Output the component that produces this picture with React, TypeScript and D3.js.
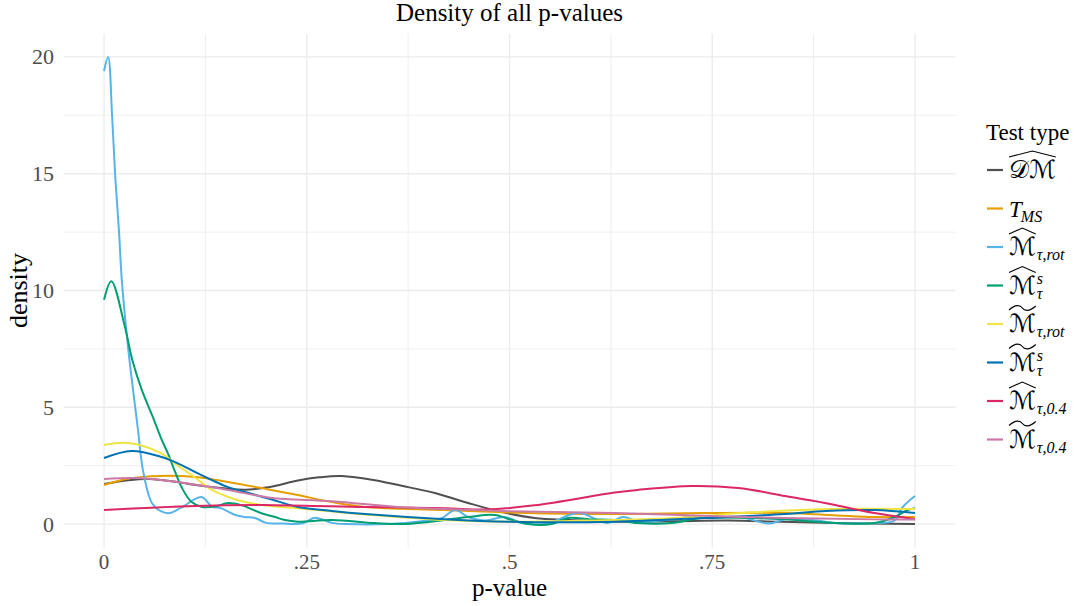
import React, { useEffect, useRef } from "react";
import * as d3 from "d3";

const W = 1083;
const H = 606;

// density estimates of p-values per test type, as [p, density]
const dmHat: [number, number][] = [
  [0, 1.72], [0.03, 1.88], [0.055, 1.93], [0.09, 1.8], [0.113, 1.67], [0.15, 1.52],
  [0.174, 1.47], [0.2, 1.56], [0.211, 1.63], [0.239, 1.86], [0.265, 2.0], [0.293, 2.06],
  [0.334, 1.88], [0.375, 1.58], [0.408, 1.33], [0.449, 0.9], [0.491, 0.51], [0.531, 0.26],
  [0.572, 0.17], [0.63, 0.1], [0.7, 0.12], [0.77, 0.15], [0.83, 0.1], [0.9, 0.04], [1, 0.0],
];
const tMS: [number, number][] = [
  [0, 1.67], [0.03, 1.95], [0.07, 2.06], [0.113, 2.01], [0.153, 1.8], [0.2, 1.5],
  [0.239, 1.24], [0.281, 0.94], [0.322, 0.73], [0.42, 0.6], [0.52, 0.47], [0.63, 0.43],
  [0.74, 0.47], [0.84, 0.47], [0.9, 0.38], [0.95, 0.3], [1, 0.3],
];
const mHatRot: [number, number][] = [
  [0, 19.4], [0.005, 20.0], [0.0099, 17.5], [0.0136, 15], [0.0185, 12.5], [0.022, 10.4],
  [0.03, 7.45], [0.042, 4.0], [0.048, 2.3], [0.059, 0.9], [0.07, 0.55], [0.081, 0.47],
  [0.095, 0.7], [0.12, 1.16], [0.133, 0.75], [0.144, 0.68], [0.162, 0.39], [0.174, 0.3],
  [0.186, 0.26], [0.2, 0.05], [0.22, 0.02], [0.245, 0.03], [0.26, 0.27], [0.281, 0.05],
  [0.3, 0.0], [0.35, 0.0], [0.4, 0.15], [0.417, 0.26], [0.433, 0.6], [0.449, 0.3],
  [0.47, 0.15], [0.494, 0.3], [0.515, 0.05], [0.544, 0.0], [0.585, 0.47], [0.62, 0.05],
  [0.64, 0.3], [0.66, 0.1], [0.7, 0.2], [0.72, 0.3], [0.75, 0.25], [0.784, 0.3],
  [0.82, 0.02], [0.84, 0.2], [0.88, 0.15], [0.9, 0.05], [0.96, 0.05], [0.975, 0.15],
  [0.985, 0.73], [1, 1.2],
];
const mHatS: [number, number][] = [
  [0, 9.6], [0.009, 10.4], [0.026, 8.4], [0.035, 7.0], [0.047, 5.7], [0.06, 4.6],
  [0.07, 3.7], [0.079, 3.0], [0.088, 2.2], [0.096, 1.55], [0.108, 0.94], [0.121, 0.73],
  [0.137, 0.75], [0.153, 0.9], [0.17, 0.8], [0.195, 0.45], [0.211, 0.3], [0.223, 0.17],
  [0.239, 0.1], [0.281, 0.17], [0.334, 0.04], [0.371, 0.0], [0.42, 0.17], [0.449, 0.3],
  [0.482, 0.39], [0.503, 0.17], [0.523, 0.0], [0.552, 0.0], [0.572, 0.26], [0.6, 0.2],
  [0.63, 0.17], [0.658, 0.04], [0.7, 0.04], [0.737, 0.26], [0.84, 0.2], [0.877, 0.1],
  [0.95, 0.04], [0.975, 0.3], [0.991, 0.6], [1, 0.68],
];
const mTildeRot: [number, number][] = [
  [0, 3.38], [0.03, 3.47], [0.07, 3.04], [0.09, 2.53], [0.113, 1.97], [0.133, 1.46],
  [0.153, 1.16], [0.174, 0.94], [0.211, 0.75], [0.239, 0.68], [0.301, 0.47], [0.362, 0.3],
  [0.42, 0.17], [0.5, 0.1], [0.6, 0.15], [0.7, 0.25], [0.8, 0.5], [0.9, 0.64], [1, 0.64],
];
const mTildeS: [number, number][] = [
  [0, 2.83], [0.034, 3.13], [0.071, 2.87], [0.091, 2.6], [0.112, 2.23], [0.133, 1.88],
  [0.153, 1.58], [0.174, 1.37], [0.205, 1.07], [0.239, 0.73], [0.281, 0.56], [0.322, 0.43],
  [0.42, 0.21], [0.5, 0.1], [0.63, 0.1], [0.74, 0.26], [0.84, 0.43], [0.89, 0.56],
  [0.95, 0.6], [1, 0.47],
];
const mHat04: [number, number][] = [
  [0, 0.6], [0.112, 0.77], [0.21, 0.81], [0.322, 0.73], [0.42, 0.68], [0.47, 0.62],
  [0.531, 0.8], [0.63, 1.35], [0.658, 1.46], [0.725, 1.63], [0.782, 1.54], [0.84, 1.2],
  [0.889, 0.9], [0.95, 0.47], [1, 0.21],
];
const mTilde04: [number, number][] = [
  [0, 1.93], [0.042, 1.97], [0.09, 1.8], [0.153, 1.46], [0.205, 1.13], [0.281, 0.98],
  [0.362, 0.73], [0.42, 0.64], [0.5, 0.55], [0.63, 0.47], [0.74, 0.35], [0.84, 0.26],
  [0.95, 0.2], [1, 0.2],
];

const seriesData = [dmHat, tMS, mHatRot, mHatS, mTildeRot, mTildeS, mHat04, mTilde04];
const seriesColors = [
  "#505050", "#E69F00", "#56B4E9", "#009E73", "#F0E442", "#0072B2", "#DB2763", "#CC79A7",
];
// legend labels: base glyphs, accent, subscript, superscript
const legendLabels = [
  { base: "𝒟ℳ", accent: "hat", sub: "", sup: "" },
  { base: "T", accent: "", sub: "MS", sup: "" },
  { base: "ℳ", accent: "hat", sub: "τ,rot", sup: "" },
  { base: "ℳ", accent: "hat", sub: "τ", sup: "s" },
  { base: "ℳ", accent: "tilde", sub: "τ,rot", sup: "" },
  { base: "ℳ", accent: "tilde", sub: "τ", sup: "s" },
  { base: "ℳ", accent: "hat", sub: "τ,0.4", sup: "" },
  { base: "ℳ", accent: "tilde", sub: "τ,0.4", sup: "" },
];

const xTicks = [0, 0.25, 0.5, 0.75, 1];
const xTickLabels = ["0", ".25", ".5", ".75", "1"];
const xMinor = [0.125, 0.375, 0.625, 0.875];
const yTicks = [0, 5, 10, 15, 20];
const yMinor = [2.5, 7.5, 12.5, 17.5];

const SERIF = "'Liberation Serif', 'Times New Roman', serif";
const MATH = "'DejaVu Serif', 'DejaVu Sans', serif";

export default function App() {
  const ref = useRef<SVGSVGElement | null>(null);

  useEffect(() => {
    const svg = d3.select(ref.current);
    svg.selectAll("*").remove();

    const x = d3.scaleLinear().domain([-0.05, 1.05]).range([63.5, 955.5]);
    const y = d3.scaleLinear().domain([-1, 21]).range([547.4, 33.6]);
    const [x0, x1] = x.range();
    const [yb, yt] = y.range();

    const grid = svg.append("g");
    grid.selectAll("line.ymin").data(yMinor).join("line")
      .attr("x1", x0).attr("x2", x1).attr("y1", (d) => y(d)).attr("y2", (d) => y(d))
      .attr("stroke", "#EBEBEB").attr("stroke-width", 0.8);
    grid.selectAll("line.xmin").data(xMinor).join("line")
      .attr("y1", yb).attr("y2", yt).attr("x1", (d) => x(d)).attr("x2", (d) => x(d))
      .attr("stroke", "#EBEBEB").attr("stroke-width", 0.8);
    grid.selectAll("line.ymaj").data(yTicks).join("line")
      .attr("x1", x0).attr("x2", x1).attr("y1", (d) => y(d)).attr("y2", (d) => y(d))
      .attr("stroke", "#EBEBEB").attr("stroke-width", 1.3);
    grid.selectAll("line.xmaj").data(xTicks).join("line")
      .attr("y1", yb).attr("y2", yt).attr("x1", (d) => x(d)).attr("x2", (d) => x(d))
      .attr("stroke", "#EBEBEB").attr("stroke-width", 1.3);

    const line = d3.line<[number, number]>()
      .x((d) => x(d[0]))
      .y((d) => y(d[1]))
      .curve(d3.curveCatmullRom.alpha(0.5));

    const lines = svg.append("g");
    seriesData.forEach((s, i) => {
      lines.append("path")
        .attr("d", line(s) as string)
        .attr("fill", "none")
        .attr("stroke", seriesColors[i])
        .attr("stroke-width", 2)
        .attr("stroke-linejoin", "round");
    });

    // axis tick labels
    svg.append("g").selectAll("text").data(xTicks).join("text")
      .attr("x", (d) => x(d)).attr("y", 569)
      .attr("text-anchor", "middle")
      .attr("font-family", SERIF).attr("font-size", 21).attr("fill", "#4D4D4D")
      .text((d, i) => xTickLabels[i]);
    svg.append("g").selectAll("text").data(yTicks).join("text")
      .attr("x", 54).attr("y", (d) => y(d) + 7.5)
      .attr("text-anchor", "end")
      .attr("font-family", SERIF).attr("font-size", 22).attr("fill", "#4D4D4D")
      .text((d) => String(d));

    // titles
    svg.append("text")
      .attr("x", (x0 + x1) / 2).attr("y", 21)
      .attr("text-anchor", "middle")
      .attr("font-family", SERIF).attr("font-size", 25)
      .text("Density of all p-values");
    svg.append("text")
      .attr("x", (x0 + x1) / 2).attr("y", 596)
      .attr("text-anchor", "middle")
      .attr("font-family", SERIF).attr("font-size", 25)
      .text("p-value");
    svg.append("text")
      .attr("transform", `translate(27,${(yb + yt) / 2}) rotate(-90)`)
      .attr("text-anchor", "middle")
      .attr("font-family", SERIF).attr("font-size", 26)
      .text("density");

    // legend
    const lg = svg.append("g");
    lg.append("text")
      .attr("x", 986).attr("y", 140)
      .attr("font-family", SERIF).attr("font-size", 23)
      .text("Test type");

    legendLabels.forEach((lab, i) => {
      const cy = 170 + i * 38.5;
      lg.append("line")
        .attr("x1", 987).attr("x2", 1003).attr("y1", cy).attr("y2", cy)
        .attr("stroke", seriesColors[i]).attr("stroke-width", 2.2);

      const bx = 1009;
      const by = cy + 8;
      const isT = lab.base === "T";
      const baseText = lg.append("text")
        .attr("x", bx).attr("y", by)
        .attr("font-family", isT ? SERIF : MATH)
        .attr("font-style", isT ? "italic" : "normal")
        .attr("font-size", isT ? 23 : 25)
        .text(lab.base);
      const node = baseText.node() as SVGTextElement;
      const bw = node.getComputedTextLength();
      const sx = bx + bw + 1;

      if (lab.sup) {
        lg.append("text")
          .attr("x", sx).attr("y", by - 10)
          .attr("font-family", SERIF).attr("font-style", "italic").attr("font-size", 16)
          .text(lab.sup);
      }
      if (lab.sub) {
        lg.append("text")
          .attr("x", isT ? sx - 2 : sx).attr("y", by + 5)
          .attr("font-family", SERIF).attr("font-style", "italic").attr("font-size", 16)
          .text(lab.sub);
      }
      if (lab.accent) {
        const ax0 = bx;
        const ax1 = bx + bw;
        const am = (ax0 + ax1) / 2;
        const ay = by - 21;
        if (lab.accent === "hat") {
          lg.append("path")
            .attr("d", `M${ax0},${ay} L${am},${ay - 6} L${ax1},${ay}`)
            .attr("fill", "none").attr("stroke", "#000").attr("stroke-width", 1.1)
            .attr("stroke-linejoin", "miter");
        } else {
          const q = (ax1 - ax0) / 4;
          lg.append("path")
            .attr("d", `M${ax0},${ay - 1} C${ax0 + q},${ay - 7} ${am - q * 0.3},${ay - 6} ${am},${ay - 3} S${ax1 - q},${ay + 1} ${ax1},${ay - 5}`)
            .attr("fill", "none").attr("stroke", "#000").attr("stroke-width", 1.1);
        }
      }
    });
  }, []);

  return (
    <svg
      ref={ref}
      width={W}
      height={H}
      viewBox={`0 0 ${W} ${H}`}
      style={{ position: "absolute", left: 0, top: 0, background: "#fff" }}
    />
  );
}
